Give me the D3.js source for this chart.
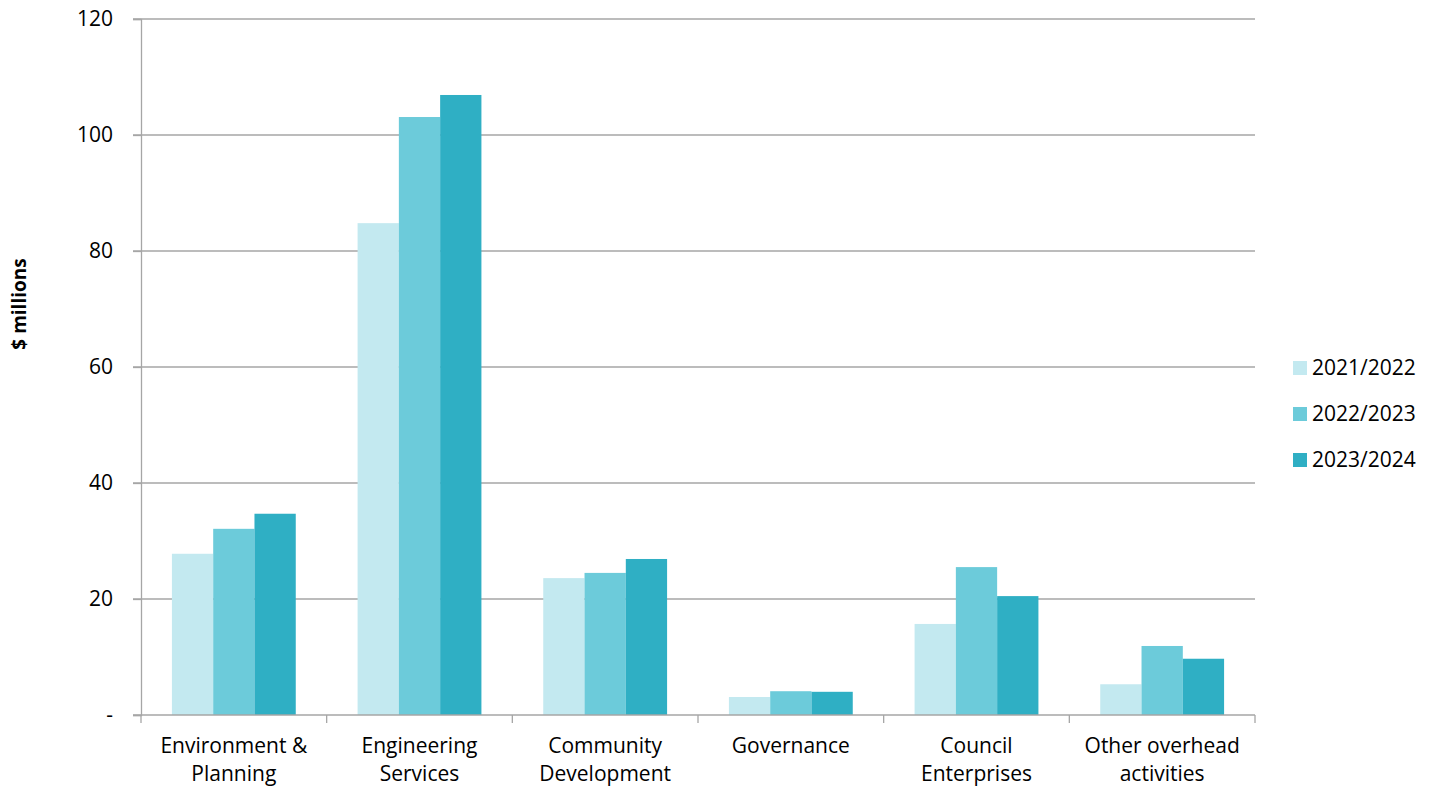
<!DOCTYPE html>
<html><head><meta charset="utf-8">
<script src="https://cdn.jsdelivr.net/npm/d3@7"></script>
<style>body{margin:0;background:#fff;}svg{display:block;font-family:"Open Sans",sans-serif;}</style>
</head><body><svg id="c" width="1432" height="787"></svg>
<script>
const categories = [["Environment &","Planning"],["Engineering","Services"],["Community","Development"],["Governance"],["Council","Enterprises"],["Other overhead","activities"]];
const seriesNames = ["2021/2022","2022/2023","2023/2024"];
const values2122 = [27.8, 84.8, 23.6, 3.1, 15.7, 5.3];
const values2223 = [32.1, 103.1, 24.5, 4.1, 25.5, 11.9];
const values2324 = [34.7, 106.9, 26.9, 4.0, 20.5, 9.7];
const yTicks = [0,20,40,60,80,100,120];
const colors = ["#C3E9F0","#6CCBDA","#2FAFC4"];
const series = [values2122, values2223, values2324];
const FF = "'Open Sans',sans-serif";
const FS = 21;

const svg = d3.select("#c");
const L=141, R=1255, T=19, B=715;
const x = d3.scaleBand().domain(d3.range(categories.length)).range([L,R]).paddingInner(0.333).paddingOuter(0.1665);
const x1 = d3.scaleBand().domain(d3.range(3)).range([0, x.bandwidth()]);
const y = d3.scaleLinear().domain([0,120]).range([B,T]);

svg.append("g").selectAll("line").data(yTicks.filter(d=>d>0)).join("line")
  .attr("x1",L-8).attr("x2",R).attr("y1",d=>y(d)).attr("y2",d=>y(d))
  .attr("stroke","#A6A6A6").attr("stroke-width",1.3);

series.forEach((vals,si)=>{
  svg.append("g").selectAll("rect").data(vals).join("rect")
    .attr("x",(d,i)=>x(i)+x1(si)).attr("width",x1.bandwidth())
    .attr("y",d=>y(d)).attr("height",d=>B-y(d)).attr("fill",colors[si]);
});

const yAxis = d3.axisLeft(y).tickValues(yTicks).tickSize(8).tickPadding(20)
  .tickFormat(d=>d===0?"-":d);
const ya = svg.append("g").attr("transform",`translate(${L},0)`).call(yAxis);
ya.select(".domain").attr("stroke","#A6A6A6").attr("stroke-width",1.3);
ya.selectAll(".tick line").attr("stroke","#A6A6A6").attr("stroke-width",1.3);
ya.selectAll("text").attr("font-size",FS).attr("fill","#000").attr("font-family",FF);

const bounds = d3.range(categories.length+1).map(i=>L+(R-L)*i/categories.length);
svg.append("line").attr("x1",L-8).attr("x2",R).attr("y1",B).attr("y2",B).attr("stroke","#A6A6A6").attr("stroke-width",1.3);
svg.append("g").selectAll("line").data(bounds).join("line")
  .attr("x1",d=>d).attr("x2",d=>d).attr("y1",B).attr("y2",B+8).attr("stroke","#A6A6A6").attr("stroke-width",1.3);
const xl = svg.append("g").selectAll("text").data(categories).join("text")
  .attr("x",(d,i)=>x(i)+x.bandwidth()/2).attr("y",753)
  .attr("text-anchor","middle").attr("font-size",FS).attr("fill","#000");
xl.each(function(d){
  const t=d3.select(this);
  d.forEach((s,k)=>t.append("tspan").attr("x",t.attr("x")).attr("dy",k?28:0).text(s));
});

svg.append("text").attr("transform","translate(26,304) rotate(-90)").attr("text-anchor","middle")
  .attr("font-size",19).attr("font-weight","bold").attr("fill","#000").text("$ millions");

const lg = svg.append("g").selectAll("g").data(seriesNames).join("g")
  .attr("transform",(d,i)=>`translate(1293,${368+i*46})`);
lg.append("rect").attr("x",0).attr("y",-7).attr("width",14).attr("height",14).attr("fill",(d,i)=>colors[i]);
lg.append("text").attr("x",19).attr("y",0).attr("dy","0.35em").attr("font-size",FS).attr("fill","#000").text(d=>d);
</script></body></html>
